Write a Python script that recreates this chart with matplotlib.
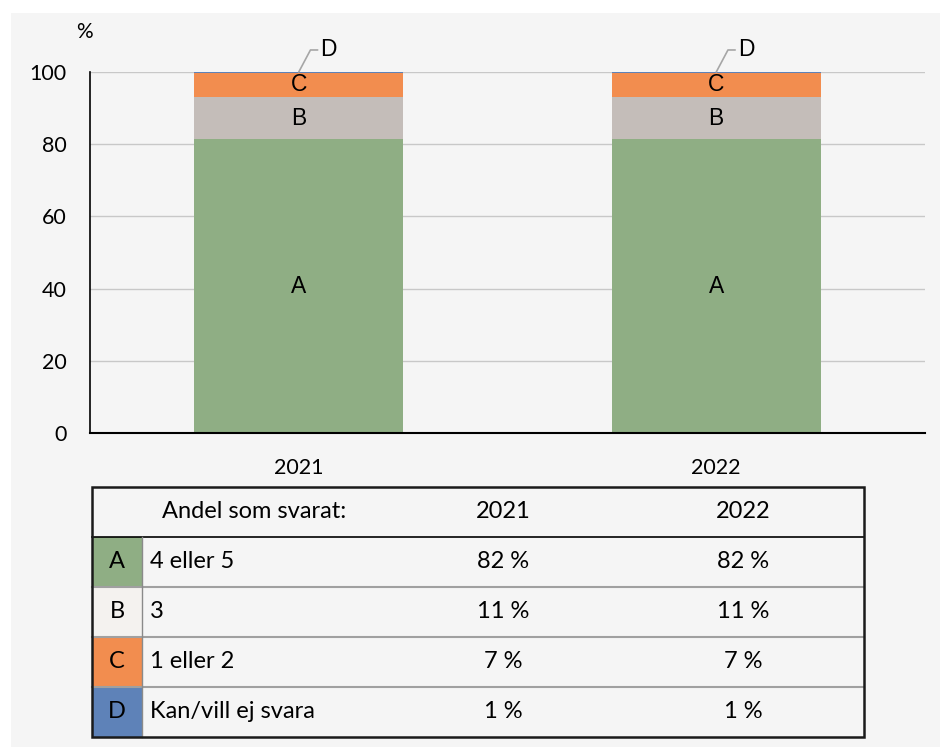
import matplotlib
matplotlib.use("Agg")
import matplotlib.pyplot as plt
from matplotlib.patches import Rectangle

# ---- data ----
years = ["2021", "2022"]
segments = ["A", "B", "C", "D"]
seg_A = [81.4, 81.4]
seg_B = [11.7, 11.7]
seg_C = [6.6, 6.6]
seg_D = [0.3, 0.3]
yticks = [0, 20, 40, 60, 80, 100]

table_header = "Andel som svarat:"
row_labels = ["4 eller 5", "3", "1 eller 2", "Kan/vill ej svara"]
pct_2021 = ["82 %", "11 %", "7 %", "1 %"]
pct_2022 = ["82 %", "11 %", "7 %", "1 %"]

bar_colors = ["#8fae84", "#c4bdb9", "#f28d4f", "#5e82b8"]
cell_colors = ["#8fae84", "#f4f2ef", "#f28d4f", "#5e82b8"]
bg = "#f5f5f5"
calibri_like = ["Lato", "DejaVu Sans"]
arial_like = ["Liberation Sans", "DejaVu Sans"]

W, H = 940, 747
fig = plt.figure(figsize=(W / 100, H / 100), dpi=100)
fig.patch.set_facecolor("white")

# background overlay axes in pixel coordinates
ov = fig.add_axes([0, 0, 1, 1], zorder=0)
ov.set_xlim(0, W)
ov.set_ylim(H, 0)
ov.axis("off")
ov.add_patch(Rectangle((11, 13), W - 11, H - 13, facecolor=bg, edgecolor="none"))

# ---- chart ----
ax = fig.add_axes([90 / W, 1 - 433 / H, (925 - 90) / W, (433 - 72) / H], zorder=2)
ax.set_facecolor("none")
x = list(range(len(years)))
series = [seg_A, seg_B, seg_C, seg_D]
bottom = [0.0] * len(years)
for name, vals, col in zip(segments, series, bar_colors):
    ax.bar(x, vals, width=0.5, bottom=bottom, color=col, edgecolor="none", zorder=2)
    for i, v in enumerate(vals):
        if name != "D":
            ax.text(x[i], bottom[i] + v / 2, name, ha="center", va="center",
                    fontsize=16.5, family=arial_like, color="black", zorder=3)
        else:
            top = bottom[i] + v
            ax.annotate(name, xy=(x[i], top), xytext=(x[i] + 0.052, 106.1),
                        ha="left", va="center", fontsize=16.5, family=arial_like,
                        annotation_clip=False,
                        arrowprops=dict(arrowstyle="-", color="#a6a6a6", lw=1.2,
                                        connectionstyle="angle,angleA=0,angleB=62,rad=0",
                                        shrinkA=0, shrinkB=0))
    bottom = [b + v for b, v in zip(bottom, vals)]

ax.set_xlim(-0.5, 1.5)
ax.set_ylim(0, 100)
ax.set_yticks(yticks)
ax.set_yticklabels([str(t) for t in yticks], family=calibri_like, fontsize=15.5)
ax.set_xticks(x)
ax.set_xticklabels(years, family=calibri_like, fontsize=15.5)
ax.tick_params(axis="both", length=0)
ax.tick_params(axis="y", pad=17)
ax.tick_params(axis="x", pad=18)
ax.grid(axis="y", color="#c8c8c8", lw=1.0, zorder=0)
ax.set_axisbelow(True)
for s in ["top", "right"]:
    ax.spines[s].set_visible(False)
ax.spines["left"].set_color("black")
ax.spines["bottom"].set_color("black")
ax.spines["left"].set_linewidth(1.2)
ax.spines["bottom"].set_linewidth(1.5)

# "%" unit label (pixel coordinates)
ov.text(84, 32, "%", ha="center", va="center", family=calibri_like, fontsize=15, zorder=3)

# ---- table (pixel coordinates) ----
tl, tr, tt, tb = 92, 864, 487, 737
row_h = (tb - tt) / 5
col_letter_r = 142
col1_x, col2_x = 503, 743
tfs = 17

for i, col in enumerate(cell_colors):
    y0 = tt + row_h * (i + 1)
    yc = y0 + row_h / 2
    ov.add_patch(Rectangle((tl, y0), col_letter_r - tl, row_h, facecolor=col,
                           edgecolor="none", zorder=1))
    ov.text((tl + col_letter_r) / 2, yc, segments[i], ha="center",
            va="center", family=calibri_like, fontsize=tfs, zorder=3)
    ov.text(150, yc, row_labels[i], ha="left", va="center",
            family=calibri_like, fontsize=tfs, zorder=3)
    ov.text(col1_x, yc, pct_2021[i], ha="center", va="center",
            family=calibri_like, fontsize=tfs, zorder=3)
    ov.text(col2_x, yc, pct_2022[i], ha="center", va="center",
            family=calibri_like, fontsize=tfs, zorder=3)
    if i > 0:
        ov.plot([tl, tr], [y0, y0], color="#a0a0a0", lw=1.5, zorder=2)

hy = tt + row_h / 2
ov.text(162, hy, table_header, ha="left", va="center", family=calibri_like,
        fontsize=tfs, zorder=3)
ov.text(col1_x, hy, years[0], ha="center", va="center", family=calibri_like,
        fontsize=tfs, zorder=3)
ov.text(col2_x, hy, years[1], ha="center", va="center", family=calibri_like,
        fontsize=tfs, zorder=3)
ov.plot([tl, tr], [tt + row_h, tt + row_h], color="black", lw=1.2, zorder=2)
ov.plot([col_letter_r, col_letter_r], [tt + row_h, tb], color="#8a8a8a", lw=1.0, zorder=2)
ov.add_patch(Rectangle((tl, tt), tr - tl, tb - tt, facecolor="none",
                       edgecolor="#1a1a1a", lw=1.8, zorder=4))

fig.savefig("out.png", dpi=100, facecolor=fig.get_facecolor())
